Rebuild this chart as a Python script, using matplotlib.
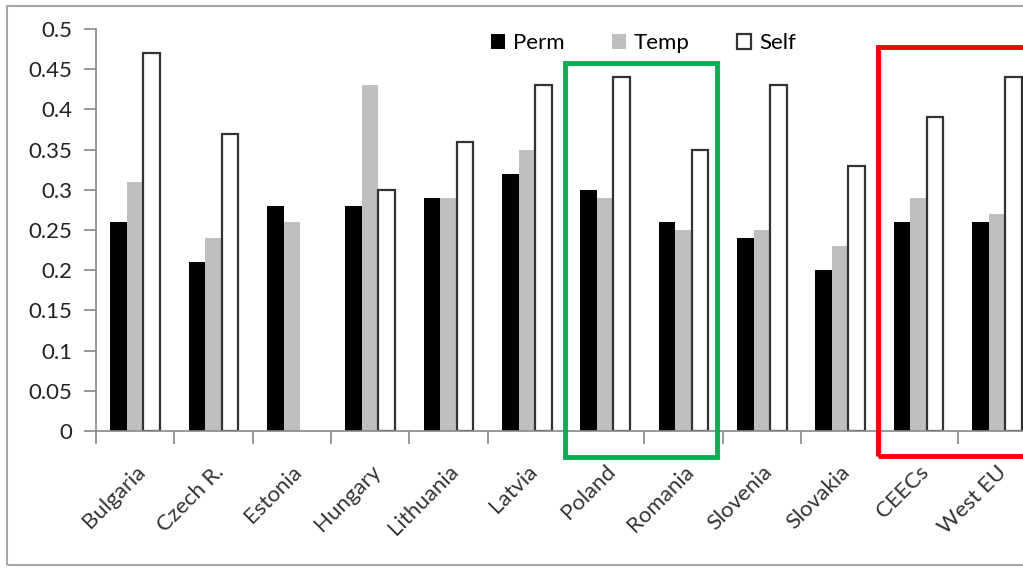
import numpy as np
import matplotlib
matplotlib.use("Agg")
from matplotlib import pyplot as plt
from matplotlib.patches import Rectangle
from matplotlib.ticker import FixedLocator, NullFormatter

countries = ['Bulgaria', 'Czech R.', 'Estonia', 'Hungary', 'Lithuania', 'Latvia',
             'Poland', 'Romania', 'Slovenia', 'Slovakia', 'CEECs', 'West EU']
perm = [0.26, 0.21, 0.28, 0.28, 0.29, 0.32, 0.30, 0.26, 0.24, 0.20, 0.26, 0.26]
temp = [0.31, 0.24, 0.26, 0.43, 0.29, 0.35, 0.29, 0.25, 0.25, 0.23, 0.29, 0.27]
self_emp = [0.47, 0.37, 0.0, 0.30, 0.36, 0.43, 0.44, 0.35, 0.43, 0.33, 0.39, 0.44]
yticks = [0, 0.05, 0.1, 0.15, 0.2, 0.25, 0.3, 0.35, 0.4, 0.45, 0.5]

plt.rcParams['font.family'] = ['Lato', 'DejaVu Sans']
fs = 16

W, H = 1023, 568
fig = plt.figure(figsize=(W / 100, H / 100), dpi=100)

# axes: left 96px, right beyond the figure edge (~1036px), y from 29 to 431px
left, right, top, bottom = 96, 1036, 29, 431
ax = fig.add_axes([left / W, 1 - bottom / H, (right - left) / W, (bottom - top) / H])

x = np.arange(len(countries)) + 0.5
w = 0.21
ax.bar(x - w, perm, w, color='black', label='Perm')
ax.bar(x, temp, w, color='#bfbfbf', label='Temp')
sv = np.array(self_emp)
ax.bar(x[sv > 0] + w, sv[sv > 0], w, color='white', edgecolor='#333333',
       linewidth=1.6, label='Self')

ax.set_xlim(0, len(countries))
ax.set_ylim(0, 0.5)
ax.set_yticks(yticks)
ax.set_yticklabels(['0' if v == 0 else f'{v:g}' for v in yticks], fontsize=fs,
                   color='#222222')
ax.xaxis.set_major_locator(FixedLocator(np.arange(len(countries) + 1)))
ax.xaxis.set_major_formatter(NullFormatter())
ax.xaxis.set_minor_locator(FixedLocator(x))
ax.set_xticklabels(countries, minor=True, rotation=45, ha='right',
                   rotation_mode='anchor', fontsize=fs, color='#333333')
ax.tick_params(axis='x', which='minor', length=0, pad=22)
ax.tick_params(axis='both', which='major', length=9, width=1.2, color='#888888',
               direction='out')
ax.tick_params(axis='y', pad=8)
for s in ['top', 'right']:
    ax.spines[s].set_visible(False)
for s in ['left', 'bottom']:
    ax.spines[s].set_color('#888888')
    ax.spines[s].set_linewidth(1.2)

leg = ax.legend(loc='upper left', bbox_to_anchor=(482 / W, 1 - 24 / H),
                bbox_transform=fig.transFigure, ncol=3, frameon=False,
                fontsize=fs, handlelength=0.65, handleheight=0.65,
                handletextpad=0.36, columnspacing=2.1, borderaxespad=0)

# outer border of the chart area
fig.patches.append(Rectangle((7 / W, 1 - 565 / H), 1.2, (565 - 6) / H,
                             transform=fig.transFigure, fill=False,
                             edgecolor='#a6a6a6', linewidth=1.5))
# highlight boxes
fig.patches.append(Rectangle((565 / W, 1 - 457 / H), (717 - 565) / W, (457 - 63) / H,
                             transform=fig.transFigure, fill=False,
                             edgecolor='#00b050', linewidth=3.5))
fig.patches.append(Rectangle((878 / W, 1 - 456 / H), (1060 - 878) / W, (456 - 47) / H,
                             transform=fig.transFigure, fill=False,
                             edgecolor='#ff0000', linewidth=3.5))

fig.savefig('out.png', dpi=100)
